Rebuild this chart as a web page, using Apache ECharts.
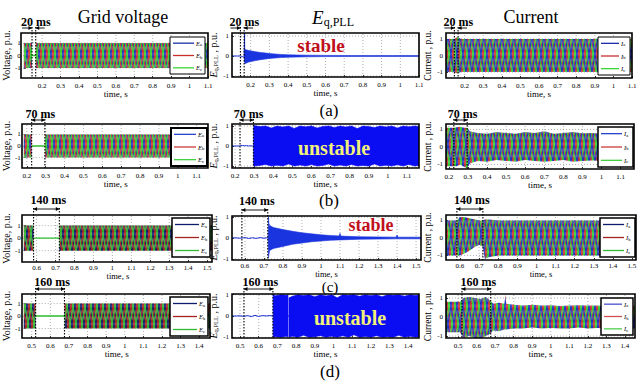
<!DOCTYPE html>
<html><head><meta charset="utf-8">
<script src="https://cdn.jsdelivr.net/npm/echarts@6/dist/echarts.min.js"></script>
<style>html,body{margin:0;padding:0;background:#fff}#c{width:640px;height:388px}</style>
</head><body><div id="c"></div>
<script>
// ================= DATA =================
const ticksA=[0.2,0.3,0.4,0.5,0.6,0.7,0.8,0.9,1.0,1.1];
const ticksB=[0.2,0.3,0.4,0.5,0.6,0.7,0.8,0.9,1.0,1.1];
const ticksC=[0.6,0.7,0.8,0.9,1.0,1.1,1.2,1.3,1.4,1.5];
const ticksD=[0.5,0.6,0.7,0.8,0.9,1.0,1.1,1.2,1.3,1.4];
const yTickVals=[-1,0,1];
const faultA=[0.145,0.165], faultB=[0.226,0.296], faultC=[0.584,0.72], faultD=[0.521,0.676];
const faultNames=['20 ms','70 ms','140 ms','160 ms'];
const vFaultLevel=[0,0];
// grid voltage envelopes (p.u.)
const vA_t=[0.10,0.145,0.145,0.165,0.165,1.10],  vA_amp=[1,1,0,0,1,1];
const vB_t=[0.184,0.226,0.226,0.296,0.296,1.16], vB_amp=[1,1,0,0,1,1];
const vC_t=[0.532,0.584,0.584,0.72,0.72,1.526],  vC_amp=[1,1,0,0,1,1];
const vD_t=[0.457,0.521,0.521,0.676,0.676,1.458],vD_amp=[1,1,0,0,1,1];
// E_q,PLL pre-fault traces
const eqA_lineT=[0.10,0.13,0.145,0.15,0.155,0.16,0.165,0.167,0.1675,0.168];
const eqA_lineV=[0.00,0.00,0.00,-0.04,-0.03,-0.05,-0.03,-0.02,1.15,-0.3];
const eqB_lineT=[0.184,0.21,0.226,0.23,0.24,0.25,0.26,0.27,0.28,0.29,0.297];
const eqB_lineV=[0,0,0,0.03,0.02,0.01,0.02,0,0.01,0,0];
const eqC_lineT=[0.532,0.55,0.57,0.584,0.60,0.62,0.64,0.66,0.68,0.70,0.715,0.722];
const eqC_lineV=[0,0.01,-0.01,0,0.02,-0.02,0.01,-0.02,0.02,-0.01,0.01,0];
const eqD_lineT=[0.457,0.48,0.50,0.521,0.54,0.56,0.58,0.60,0.62,0.64,0.66,0.676];
const eqD_lineV=[0,0,0.01,-0.02,0.02,-0.03,0.03,-0.02,0.02,0,0.02,0];
// E_q,PLL oscillation envelopes
const eqA_t=[0.168,0.17,0.19,0.22,0.25,0.28,0.30,0.33,0.36,0.40,0.45,0.50,0.60,0.70,0.80,0.90,1.00,1.10];
const eqA_hi=[0.3,0.32,0.28,0.22,0.18,0.15,0.12,0.1,0.08,0.06,0.05,0.04,0.03,0.025,0.02,0.02,0.02,0.02];
const eqA_lo=[-0.4,-0.38,-0.3,-0.24,-0.19,-0.15,-0.12,-0.1,-0.08,-0.06,-0.05,-0.04,-0.03,-0.025,-0.02,-0.02,-0.02,-0.02];
const eqB_t=[0.297,0.30,0.33,0.36,0.39,0.42,0.45,0.48,0.51,0.54,0.57,0.60,0.63,0.66,0.69,0.72,0.75,0.78,0.81,0.84,0.87,0.90,0.93,0.96,0.99,1.02,1.05,1.08,1.11,1.14,1.163];
const eqB_hi=[0.9,1.02,0.97,1.0,0.9,1.0,0.95,1.0,0.88,1.0,0.96,1.0,0.9,0.98,1.0,0.92,1.0,0.95,1.0,0.87,1.0,0.97,0.92,1.0,0.95,1.0,0.9,1.0,0.96,1.0,0.98];
const eqB_lo=[-0.95,-1.0,-0.97,-0.92,-1.0,-0.96,-1.0,-0.9,-1.0,-0.95,-1.0,-0.93,-1.0,-0.97,-0.9,-1.0,-0.95,-1.0,-0.92,-1.0,-0.97,-1.0,-0.9,-1.0,-0.96,-1.0,-0.94,-1.0,-0.92,-1.0,-0.97];
const eqC_t=[0.722,0.724,0.726,0.73,0.75,0.8,0.85,0.9,0.95,1.0,1.05,1.095,1.1,1.105,1.2,1.3,1.395,1.4,1.405,1.526];
const eqC_hi=[0.0,1.0,0.7,0.6,0.5,0.4,0.32,0.25,0.2,0.15,0.12,0.1,0.22,0.09,0.06,0.05,0.04,0.14,0.04,0.04];
const eqC_lo=[0.0,-0.95,-0.8,-0.6,-0.5,-0.4,-0.3,-0.24,-0.18,-0.14,-0.11,-0.09,-0.09,-0.09,-0.06,-0.05,-0.04,-0.04,-0.04,-0.04];
const eqD_t=[0.677,0.69,0.72,0.75,0.757,0.757,0.762,0.762,0.78,0.81,0.84,0.87,0.90,0.93,0.96,0.99,1.02,1.05,1.08,1.11,1.14,1.17,1.20,1.23,1.26,1.29,1.32,1.35,1.38,1.41,1.44,1.458];
const eqD_hi=[1.0,0.95,1.0,0.97,1.0,0,0,0.85,0.92,1.0,0.96,1.0,0.9,1.0,0.94,1.0,0.85,1.0,0.97,1.0,0.92,1.0,0.95,1.0,0.9,1.0,0.97,1.0,0.93,1.0,0.96,1.0];
const eqD_lo=[-1.0,-0.97,-1.0,-0.95,-1.0,0,0,-1.0,-0.95,-1.0,-0.9,-1.0,-0.97,-0.92,-1.0,-0.95,-1.0,-0.93,-1.0,-0.88,-1.0,-0.96,-1.0,-0.92,-1.0,-0.97,-1.0,-0.9,-1.0,-0.95,-1.0,-0.97];
// current envelopes
const iA_t=[0.10,0.145,0.15,0.16,0.17,0.18,1.10];
const iA_hi=[1.0,1.0,1.05,1.1,1.08,1.0,1.0];
const iA_lo=[-1.0,-1.0,-1.05,-1.08,-1.05,-1.0,-1.0];
const iB_t=[0.184,0.226,0.24,0.26,0.28,0.296,0.31,0.35,0.40,0.45,0.50,0.55,0.60,0.65,0.70,0.75,0.80,0.85,0.90,0.95,1.00,1.05,1.10,1.16];
const iB_hi=[1.1,1.1,1.12,1.15,1.1,1.1,0.9,0.8,0.75,0.85,0.8,0.75,0.85,0.8,0.9,0.75,0.8,0.85,0.78,0.8,0.75,0.8,0.8,0.8];
const iB_lo=[-1.1,-1.1,-1.1,-1.0,-1.15,-1.2,-0.95,-0.8,-0.85,-0.75,-0.8,-0.85,-0.75,-0.8,-0.85,-0.8,-0.75,-0.85,-0.8,-0.78,-0.8,-0.8,-0.8,-0.8];
const iC_t=[0.527,0.584,0.60,0.62,0.64,0.66,0.68,0.70,0.72,0.73,0.75,0.80,0.90,1.00,1.521];
const iC_hi=[1.0,1.0,1.2,1.2,1.15,1.1,1.05,1.0,1.0,1.05,1.05,1.0,1.0,1.0,1.0];
const iC_lo=[-1.0,-1.0,-1.0,-0.9,-0.8,-0.65,-0.5,-0.4,-0.5,-1.2,-1.1,-1.0,-1.0,-1.0,-1.0];
const iD_t=[0.435,0.51,0.53,0.56,0.59,0.62,0.65,0.67,0.69,0.72,0.75,0.755,0.76,0.80,0.85,0.90,0.95,1.00,1.05,1.10,1.15,1.20,1.25,1.30,1.35,1.40,1.454];
const iD_hi=[0.8,0.8,1.0,1.05,1.0,0.95,1.05,0.9,0.7,0.75,0.7,1.2,0.7,0.65,0.6,0.65,0.6,0.62,0.58,0.6,0.62,0.6,0.6,0.58,0.6,0.6,0.6];
const iD_lo=[-0.8,-0.8,-1.1,-1.0,-1.1,-1.15,-1.0,-0.9,-0.7,-0.75,-0.65,-0.65,-0.65,-0.6,-0.6,-0.55,-0.6,-0.58,-0.6,-0.6,-0.55,-0.6,-0.58,-0.6,-0.6,-0.6,-0.6];

// ================= LAYOUT / STYLE =================
const FONT='"Liberation Serif","DejaVu Serif",serif';
const layout=[[21,33,187,45],[232,33,187,44],[446,33,186,45],
 [22,124,186,44],[232,124,187,44],[446,124,188,45],
 [22,215,190,47],[232,216,189,44],[446,215,190,45],
 [22,294,188,44],[232,294,187,44],[446,294,189,44]];
const xRange=[[0.1,1.1],[0.1,1.1],[0.1,1.1],
 [0.184,1.16],[0.184,1.163],[0.185,1.17],
 [0.532,1.526],[0.532,1.526],[0.527,1.521],
 [0.457,1.458],[0.457,1.458],[0.435,1.454]];
const yRange=[[-1.8,1.8],[-1.05,1.15],[-1.36,1.36],
 [-1.9,1.9],[-1.1,1.1],[-1.26,1.31],
 [-1.9,1.84],[-1.05,1.05],[-1.26,1.31],
 [-1.76,1.76],[-1.03,1.03],[-1.1,1.21]];
const rowTicks=[ticksA,ticksB,ticksC,ticksD];
const rowFault=[faultA,faultB,faultC,faultD];
const nameGapX=[9,10,3,11];
const labelMarginX=[4,4,2,4];
const nameSizeX=[9,9,8.5,9];
const labelDy=[-11,-10,-15,-12], arrowDy=[-5,-4,-6,-5];

// steep crosshatch texture standing in for the dense 50 Hz three-phase traces
function hatch(cols){
  const W=6,H=36;
  const c=document.createElement('canvas'); c.width=W; c.height=H;
  const g=c.getContext('2d');
  g.fillStyle='#ffffff'; g.fillRect(0,0,W,H);
  g.lineWidth=1.25;
  cols.forEach((col,k)=>{
    g.strokeStyle=col;
    const x0=k*2;
    [-W,0,W].forEach(dx=>{
      g.beginPath(); g.moveTo(x0+dx,0); g.lineTo(x0+dx+W,H); g.stroke();
      g.beginPath(); g.moveTo(x0+dx+W,0); g.lineTo(x0+dx,H); g.stroke();
    });
  });
  return {image:c, repeat:'repeat'};
}
const patV1=hatch(['#2436b8','#d03434','#34cc34']);
const patV2=hatch(['#101c6a','#a82222','#30b030']);
const patI=hatch(['#cc3434','#34cc34','#2234c0']);

const grids=layout.map(l=>({left:l[0],top:l[1],width:l[2],height:l[3],show:true,backgroundColor:'#fff',borderWidth:0}));
const fmt=v=>String(Math.round(v*10)/10);
const xAxes=layout.map((l,i)=>{const r=Math.floor(i/3);return {
  gridIndex:i,type:'value',min:xRange[i][0],max:xRange[i][1],
  axisLine:{show:false,onZero:false},
  axisTick:{show:true,inside:true,length:2,customValues:rowTicks[r],lineStyle:{color:'#000',width:0.8}},
  axisLabel:{customValues:rowTicks[r],formatter:fmt,fontSize:7,fontFamily:FONT,color:'#000',margin:labelMarginX[r]},
  splitLine:{show:false},
  name:'time, s',nameLocation:'middle',nameGap:nameGapX[r],
  nameTextStyle:{fontSize:nameSizeX[r],fontFamily:FONT,color:'#000'}};});
const yNames=['Voltage, p.u.','{e|E}{s|q,PLL}{n| , p.u.}','Current , p.u.'];
const yAxes=layout.map((l,i)=>{const c=i%3;return {
  gridIndex:i,type:'value',min:yRange[i][0],max:yRange[i][1],
  axisLine:{show:false,onZero:false},
  axisTick:{show:true,inside:true,length:2,customValues:yTickVals,lineStyle:{color:'#000',width:0.8}},
  axisLabel:{customValues:yTickVals,fontSize:7,fontFamily:FONT,color:'#000',margin:3},
  splitLine:{show:false},
  name:yNames[c],nameLocation:'middle',nameRotate:90,nameGap:c===0?8:9,
  nameTextStyle:{fontSize:c===2?9.5:10,fontFamily:FONT,color:'#000',
    rich:{e:{fontSize:10,fontStyle:'italic',fontFamily:FONT},s:{fontSize:6.5,fontFamily:FONT,padding:[4,0,0,0],verticalAlign:'bottom'},n:{fontSize:10,fontFamily:FONT}}}};});

const series=[];
function gridLines(gi,ticks){
  const yr=yRange[gi], xr=xRange[gi];
  series.push({type:'custom',xAxisIndex:gi,yAxisIndex:gi,z:1,silent:true,
    data:ticks.map(v=>[v,0]),
    renderItem:(p,api)=>{const v=api.value(0);const a=api.coord([v,yr[0]]),b=api.coord([v,yr[1]]);
      return {type:'line',shape:{x1:a[0],y1:a[1],x2:b[0],y2:b[1]},style:{stroke:'#9a9a9a',lineWidth:0.8,lineDash:[1,2]}};}});
  series.push({type:'custom',xAxisIndex:gi,yAxisIndex:gi,z:1,silent:true,
    data:yTickVals.map(v=>[xr[0],v]),
    renderItem:(p,api)=>{const v=api.value(1);const a=api.coord([xr[0],v]),b=api.coord([xr[1],v]);
      return {type:'line',shape:{x1:a[0],y1:a[1],x2:b[0],y2:b[1]},style:{stroke:'#9a9a9a',lineWidth:0.8,lineDash:[1,2]}};}});
}
function band(gi,t,hi,lo,fill,stroke){
  series.push({type:'custom',xAxisIndex:gi,yAxisIndex:gi,z:3,clip:true,silent:true,
    data:[[t[0],hi[0]]],
    renderItem:(p,api)=>{const pts=[];
      for(let k=0;k<t.length;k++)pts.push(api.coord([t[k],hi[k]]));
      for(let k=t.length-1;k>=0;k--)pts.push(api.coord([t[k],lo[k]]));
      return {type:'polygon',shape:{points:pts},style:{fill:fill,stroke:stroke||null,lineWidth:stroke?0.6:0}};}});
}
function line(gi,t,v,color,w){
  series.push({type:'line',xAxisIndex:gi,yAxisIndex:gi,z:4,silent:true,showSymbol:false,symbol:'none',
    data:t.map((x,k)=>[x,v[k]]),lineStyle:{color:color,width:w},animation:false});
}
function marker(gi,fault,label,r){
  series.push({type:'custom',xAxisIndex:gi,yAxisIndex:gi,z:10,clip:false,silent:true,
    data:[[fault[0],fault[1]]],
    renderItem:(p,api)=>{
      const cs=p.coordSys; const top=cs.y, bot=cs.y+cs.height;
      const xa=api.coord([api.value(0),0])[0], xb=api.coord([api.value(1),0])[0];
      const ay=top+arrowDy[r];
      const els=[];
      [xa,xb].forEach(x=>els.push({type:'line',shape:{x1:x,y1:ay-1,x2:x,y2:bot},style:{stroke:'#000',lineWidth:1.1,lineDash:[1.5,1.5]}}));
      const st={stroke:'#000',lineWidth:0.9};
      if(r===0){
        els.push({type:'line',shape:{x1:xa-10,y1:ay,x2:xa,y2:ay},style:st});
        els.push({type:'polygon',shape:{points:[[xa,ay],[xa-3.5,ay-2],[xa-3.5,ay+2]]},style:{fill:'#000'}});
        els.push({type:'line',shape:{x1:xb+9,y1:ay,x2:xb,y2:ay},style:st});
        els.push({type:'polygon',shape:{points:[[xb,ay],[xb+3.5,ay-2],[xb+3.5,ay+2]]},style:{fill:'#000'}});
      }else{
        els.push({type:'line',shape:{x1:xa,y1:ay,x2:xb,y2:ay},style:st});
        els.push({type:'polygon',shape:{points:[[xa,ay],[xa+3.5,ay-2],[xa+3.5,ay+2]]},style:{fill:'#000'}});
        els.push({type:'polygon',shape:{points:[[xb,ay],[xb-3.5,ay-2],[xb-3.5,ay+2]]},style:{fill:'#000'}});
      }
      els.push({type:'text',style:{text:label,x:(xa+xb)/2+2,y:top+labelDy[r],align:'center',verticalAlign:'middle',textAlign:'center',textVerticalAlign:'middle',font:'bold 12px '+FONT,fill:'#000'}});
      return {type:'group',children:els};
    }});
}

const vT=[vA_t,vB_t,vC_t,vD_t], vAmp=[vA_amp,vB_amp,vC_amp,vD_amp];
const eqLT=[eqA_lineT,eqB_lineT,eqC_lineT,eqD_lineT], eqLV=[eqA_lineV,eqB_lineV,eqC_lineV,eqD_lineV];
const eqT=[eqA_t,eqB_t,eqC_t,eqD_t], eqH=[eqA_hi,eqB_hi,eqC_hi,eqD_hi], eqL=[eqA_lo,eqB_lo,eqC_lo,eqD_lo];
const iT=[iA_t,iB_t,iC_t,iD_t], iH=[iA_hi,iB_hi,iC_hi,iD_hi], iL=[iA_lo,iB_lo,iC_lo,iD_lo];
const eqFill=['#1a34e0','#0a0cf2','#1a34e0','#0a0cf2'];

for(let r=0;r<4;r++){
  const gV=r*3, gE=r*3+1, gI=r*3+2;
  [gV,gE,gI].forEach(g=>gridLines(g,rowTicks[r]));
  band(gV,vT[r],vAmp[r],vAmp[r].map(a=>-a),r<2?patV1:patV2);
  line(gV,rowFault[r],vFaultLevel,'#2fc02f',1.3);
  line(gE,eqLT[r],eqLV[r],'#1a2ed8',1);
  band(gE,eqT[r],eqH[r],eqL[r],eqFill[r],eqFill[r]);
  band(gI,iT[r],iH[r],iL[r],patI);
  [gV,gE,gI].forEach(g=>marker(g,rowFault[r],faultNames[r],r));
}

// ================= GRAPHIC (titles, legends, labels, frames) =================
const G=[];
const txt=(text,x,y,font,fill,extra)=>({type:'text',z:100,silent:true,style:Object.assign({text,x,y,font,fill:fill||'#000',textAlign:'center',textVerticalAlign:'middle',align:'center',verticalAlign:'middle'},extra||{})});
G.push(txt('Grid voltage',123,17,'18px '+FONT));
G.push(txt('Current',531,17,'18px '+FONT));
G.push(txt('{e|E}{s|q,PLL}',333,17,'18px '+FONT,'#000',{rich:{e:{fontSize:19,fontStyle:'italic',fontFamily:FONT},s:{fontSize:12,fontFamily:FONT,padding:[9,0,0,0],verticalAlign:'bottom'}}}));
G.push(txt('(a)',329,110,'17px '+FONT));
G.push(txt('(b)',329,200,'17px '+FONT));
G.push(txt('(c)',330,287,'15px '+FONT));
G.push(txt('(d)',330,371,'17px '+FONT));
G.push(txt('stable',321,45,'bold 19px '+FONT,'#c0101c'));
G.push(txt('unstable',334,148,'bold 20px '+FONT,'#f2f27a'));
G.push(txt('stable',371,225,'bold 18px '+FONT,'#c0101c'));
G.push(txt('unstable',350,318,'bold 20px '+FONT,'#f2f27a'));
layout.forEach(l=>G.push({type:'rect',z:90,silent:true,shape:{x:l[0],y:l[1],width:l[2],height:l[3]},style:{fill:null,stroke:'#000',lineWidth:1.6}}));
const legBoxes=[[170,37,35,37],[598,37,32,38],[171,128,36,38],[598,127,35,40],[172,218,38,39],[600,218,35,39],[170,297,38,39],[601,298,32,37]];
const legCols=[['#1c2fa8','#c83030','#3ad63a'],['#1c2fa8','#c83030','#3ad63a'],['#2a44d0','#cc3b3b','#40d040'],['#2a44d0','#cc3b3b','#40d040'],
 ['#0b1d6b','#a52020','#33b833'],['#0b1d6b','#a52020','#33b833'],['#0b1d6b','#a52020','#33b833'],['#4a50d0','#d05050','#50d050']];
const legBW=[1,1,2,1.5,1.5,1.5,1.5,1.5];
legBoxes.forEach((b,k)=>{
  const [x,y,w,h]=b; const letter=k%2===0?'E':'I';
  G.push({type:'rect',z:100,silent:true,shape:{x,y,width:w,height:h},style:{fill:'#fff',stroke:'#000',lineWidth:legBW[k]}});
  ['a','b','c'].forEach((s,j)=>{
    const yy=y+h*(j+0.5)/3;
    G.push({type:'line',z:101,silent:true,shape:{x1:x+3,y1:yy,x2:x+w-11,y2:yy},style:{stroke:legCols[k][j],lineWidth:1.3}});
    G.push({type:'text',z:101,silent:true,style:{text:'{i|'+letter+'}{s|'+s+'}',x:x+w-9,y:yy,textVerticalAlign:'middle',verticalAlign:'middle',
      rich:{i:{fontSize:6.5,fontStyle:'italic',fontFamily:FONT},s:{fontSize:4.5,fontFamily:FONT,padding:[3,0,0,0],verticalAlign:'bottom'}}}});
  });
});

const chart=echarts.init(document.getElementById('c'),null,{renderer:'svg',width:640,height:388});
chart.setOption({backgroundColor:'#fff',animation:false,grid:grids,xAxis:xAxes,yAxis:yAxes,series:series,graphic:{elements:G}});
</script></body></html>
